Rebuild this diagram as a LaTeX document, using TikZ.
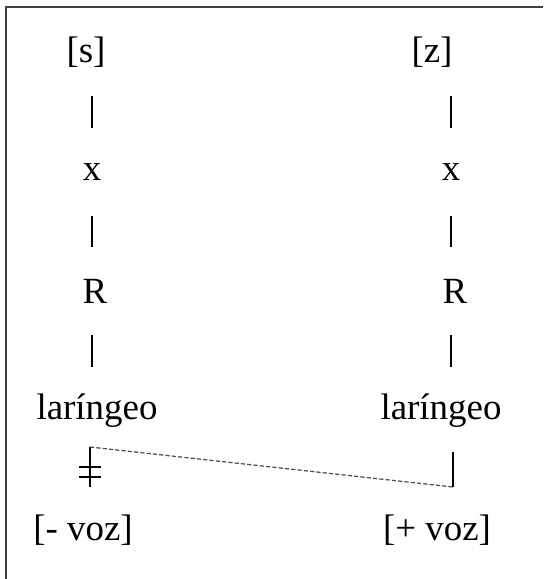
\documentclass[tikz,border=0pt]{standalone}
\usepackage{fontspec}
\setmainfont{Liberation Serif}
\usepackage{tikz}
\usetikzlibrary{calc}

\tikzset{
	seg/.style={inner sep=0, minimum height=0.6cm, font=\fontsize{10.5}{12}\selectfont},
	bar/.style={line width=0.6pt, shorten <=0.13cm, shorten >=0.13cm},
}

\begin{document}
\begin{tikzpicture}
		\useasboundingbox (0,0) rectangle (5.44,-5.79);
		\draw [black!75, line width=0.45pt] (0.06,-5.79) -- (0.06,-0.07) -- (5.43,-0.07);
		% left column
		\node [seg] (sL) at (0.86,-0.52) {[s]};
		\node [seg] (xL) at (0.92,-1.72) {x};
		\node [seg] (RL) at (0.95,-2.91) {R};
		\node [seg] (larL) at (0.97,-4.11) {laríngeo};
		\node [seg] (vozL) at (0.83,-5.30) {[- voz]};
		% right column
		\node [seg] (zR) at (4.32,-0.52) {[z]};
		\node [seg] (xR) at (4.51,-1.72) {x};
		\node [seg] (RR) at (4.55,-2.91) {R};
		\node [seg] (larR) at (4.41,-4.11) {laríngeo};
		\node [seg] (vozR) at (4.37,-5.30) {[+ voz]};
		\draw [bar] (xL |- sL.south) -- (xL.north);
		\draw [bar] (xL.south) -- (xL |- RL.north);
		\draw [bar] (xL |- RL.south) -- (xL |- larL.north);
		\draw [bar] (xR |- zR.south) -- (xR.north);
		\draw [bar] (xR.south) -- (xR |- RR.north);
		\draw [bar] (xR |- RR.south) -- (xR |- larR.north);
		% delinking and spreading
		\coordinate (lt) at (0.90,-4.47);
		\coordinate (lb) at (0.90,-4.87);
		\coordinate (rt) at (4.53,-4.52);
		\coordinate (rb) at (4.53,-4.87);
		\draw [line width=0.45pt] (lt) -- (lb);
		\draw [line width=0.45pt] ($(lt)+(-0.11,-0.20)$) -- ++(0.22,0);
		\draw [line width=0.45pt] ($(lt)+(-0.11,-0.30)$) -- ++(0.22,0);
		\draw [line width=0.6pt] (rt) -- (rb);
		\draw [black!70, line width=0.35pt, dash pattern=on 1.2pt off 0.6pt] (lt) -- (rb);
	\end{tikzpicture}
\end{document}
